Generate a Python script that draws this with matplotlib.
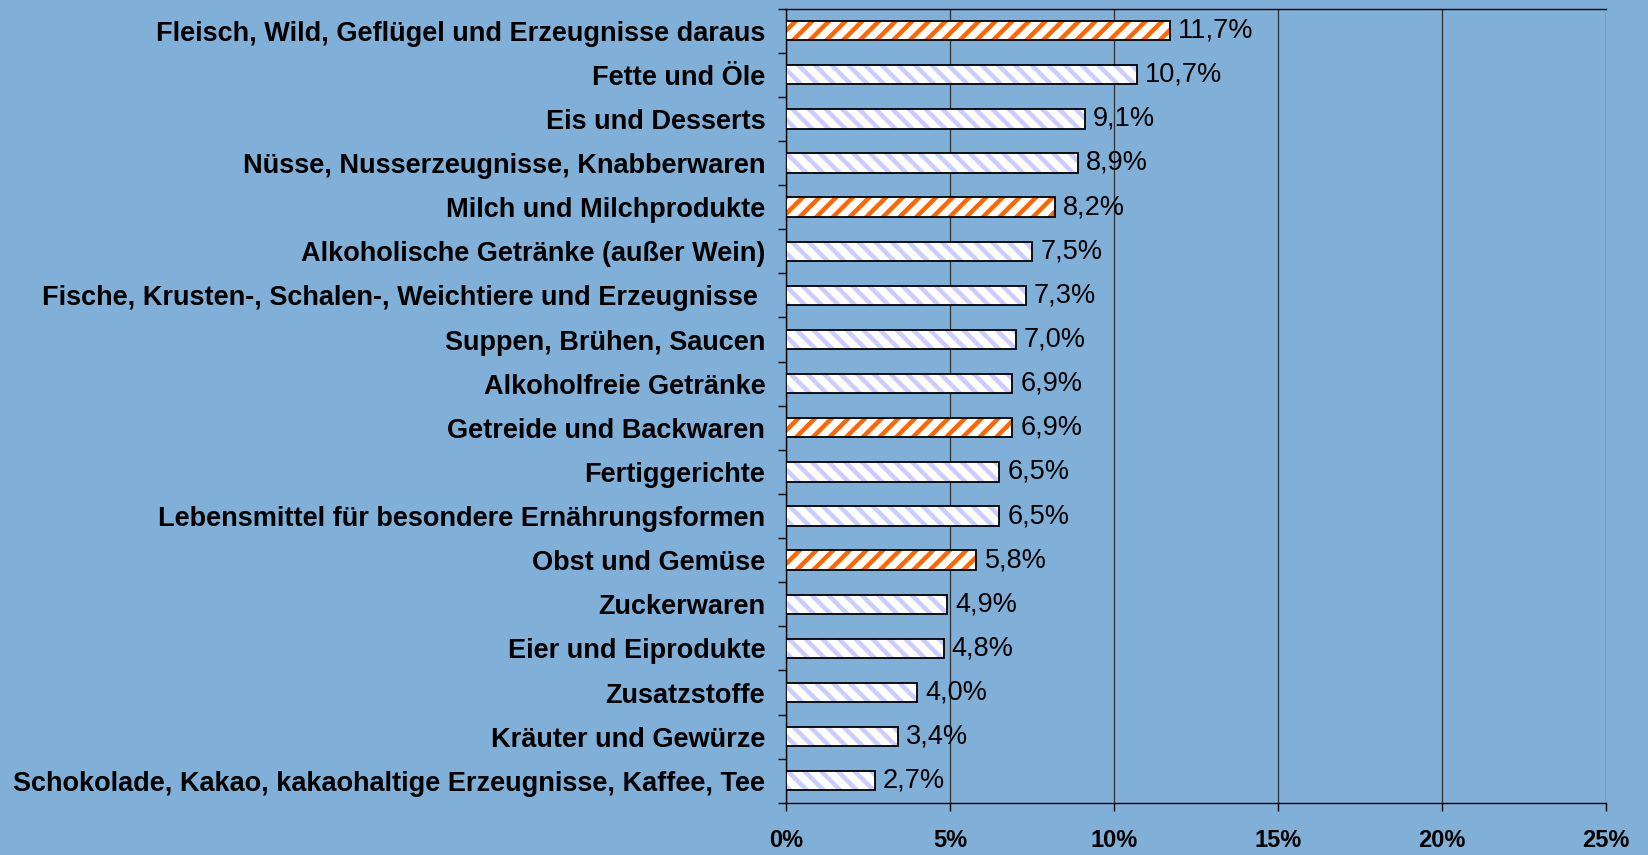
import matplotlib.pyplot as plt

# categories from top to bottom
categories = [
    "Fleisch, Wild, Geflügel und Erzeugnisse daraus",
    "Fette und Öle",
    "Eis und Desserts",
    "Nüsse, Nusserzeugnisse, Knabberwaren",
    "Milch und Milchprodukte",
    "Alkoholische Getränke (außer Wein)",
    "Fische, Krusten-, Schalen-, Weichtiere und Erzeugnisse ",
    "Suppen, Brühen, Saucen",
    "Alkoholfreie Getränke",
    "Getreide und Backwaren",
    "Fertiggerichte",
    "Lebensmittel für besondere Ernährungsformen",
    "Obst und Gemüse",
    "Zuckerwaren",
    "Eier und Eiprodukte",
    "Zusatzstoffe",
    "Kräuter und Gewürze",
    "Schokolade, Kakao, kakaohaltige Erzeugnisse, Kaffee, Tee",
]
values = [11.7, 10.7, 9.1, 8.9, 8.2, 7.5, 7.3, 7.0, 6.9, 6.9, 6.5, 6.5, 5.8, 4.9, 4.8, 4.0, 3.4, 2.7]
highlighted = ["Fleisch, Wild, Geflügel und Erzeugnisse daraus", "Milch und Milchprodukte",
               "Getreide und Backwaren", "Obst und Gemüse"]
xticks = [0, 5, 10, 15, 20, 25]

bg = "#80B0D8"
plt.rcParams['font.family'] = ['Liberation Sans', 'DejaVu Sans']
plt.rcParams['hatch.linewidth'] = 3.2

fig = plt.figure(figsize=(16.48, 8.55), dpi=100, facecolor=bg)
ax = fig.add_axes([0.477, 0.061, 0.4975, 0.929], facecolor=bg)

n = len(categories)
ypos = list(range(n))
for i, (cat, v) in enumerate(zip(categories, values)):
    orange = cat in highlighted
    # hatched fill (edgecolor sets hatch colour), then a black outline on top
    ax.barh(i, v, height=0.44, color="white", edgecolor="#FF6600" if orange else "#CCCCFF",
            linewidth=0, hatch="//" if orange else "\\\\", zorder=3)
    ax.barh(i, v, height=0.44, color="none", edgecolor="black", linewidth=1.3, zorder=4)
    ax.text(v + 0.25, i, f"{v:.1f}%".replace(".", ","), va="center", ha="left",
            fontsize=19.5, zorder=5)

ax.set_ylim(n - 0.5, -0.5)
ax.set_xlim(0, 25)
ax.set_yticks(ypos)
ax.set_yticklabels(categories, fontsize=19.5, fontweight="bold")
ax.set_yticks([k - 0.5 for k in range(n + 1)], minor=True)
ax.tick_params(axis="y", which="major", length=0, pad=15)
ax.tick_params(axis="y", which="minor", length=6, width=1)
ax.set_xticks(xticks)
ax.set_xticklabels([f"{t}%" for t in xticks], fontsize=17, fontweight="bold")
ax.tick_params(axis="x", length=6, width=1, pad=13)
ax.grid(axis="x", color="#303030", linewidth=0.9, zorder=0)
for s in ax.spines.values():
    s.set_color("black")
    s.set_linewidth(1)
ax.spines["right"].set_visible(False)

fig.savefig("out.png", dpi=100, facecolor=bg)
